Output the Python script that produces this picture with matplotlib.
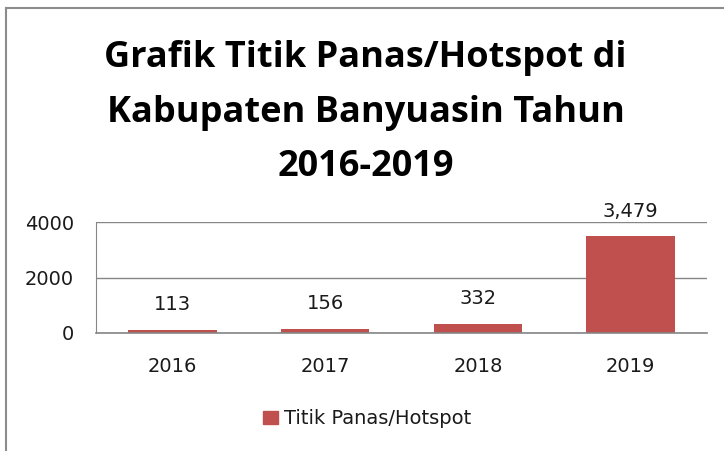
import matplotlib.pyplot as plt
from matplotlib.lines import Line2D
from matplotlib.patches import Rectangle

# data
years = ['2016', '2017', '2018', '2019']
hotspots = [113, 156, 332, 3479]
value_labels = ['113', '156', '332', '3,479']
series_name = 'Titik Panas/Hotspot'
title_lines = ['Grafik Titik Panas/Hotspot di', 'Kabupaten Banyuasin Tahun', '2016-2019']

bar_color = '#C0504D'
grid_color = '#868686'
text_color = '#1a1a1a'

fig = plt.figure(figsize=(7.24, 4.51), dpi=100)

# outer chart frame (only left and top edges visible)
fig.add_artist(Line2D([6/724, 6/724], [0, 1 - 8/451], transform=fig.transFigure,
                      color='#8c8c8c', lw=1.5))
fig.add_artist(Line2D([6/724, 1], [1 - 8/451, 1 - 8/451], transform=fig.transFigure,
                      color='#8c8c8c', lw=1.5))

# title, one text per line (baselines)
baselines = [67, 122, 176]
for line, yb in zip(title_lines, baselines):
    fig.text(0.505, 1 - yb / 451, line, ha='center', va='baseline',
             fontsize=26, fontweight='bold', family='Open Sans', color='black')

ax = fig.add_axes([96/724, 1 - 333/451, (707 - 96)/724, (333 - 222)/451])
x = range(len(years))
bars = ax.bar(x, hotspots, width=0.58, color=bar_color, zorder=2)

ax.set_xlim(-0.5, len(years) - 0.5)
ax.set_ylim(0, 4000)
ax.set_yticks([0, 2000, 4000])
ax.set_xticks(list(x))
ax.set_xticklabels(years)
ax.tick_params(length=0, labelsize=14, colors=text_color)
ax.tick_params(axis='x', pad=17)
ax.tick_params(axis='y', pad=16)
ax.yaxis.grid(True, color=grid_color, lw=1)
ax.set_axisbelow(True)
ax.axhline(0, color=grid_color, lw=1.2, zorder=3, clip_on=False)
for s in ['top', 'right', 'bottom']:
    ax.spines[s].set_visible(False)
ax.spines['left'].set_color(grid_color)

for b, lab in zip(bars, value_labels):
    ax.annotate(lab, (b.get_x() + b.get_width() / 2, b.get_height()),
                xytext=(0, 18), textcoords='offset points', ha='center', va='center',
                fontsize=14, color=text_color, annotation_clip=False)

# legend
fig.patches.append(Rectangle((263/724, 1 - 424/451), 15/724, 13/451,
                             transform=fig.transFigure, color=bar_color))
fig.text(284/724, 1 - 418/451, series_name, ha='left', va='center',
         fontsize=14, color=text_color)

fig.savefig('out.png', dpi=100)
